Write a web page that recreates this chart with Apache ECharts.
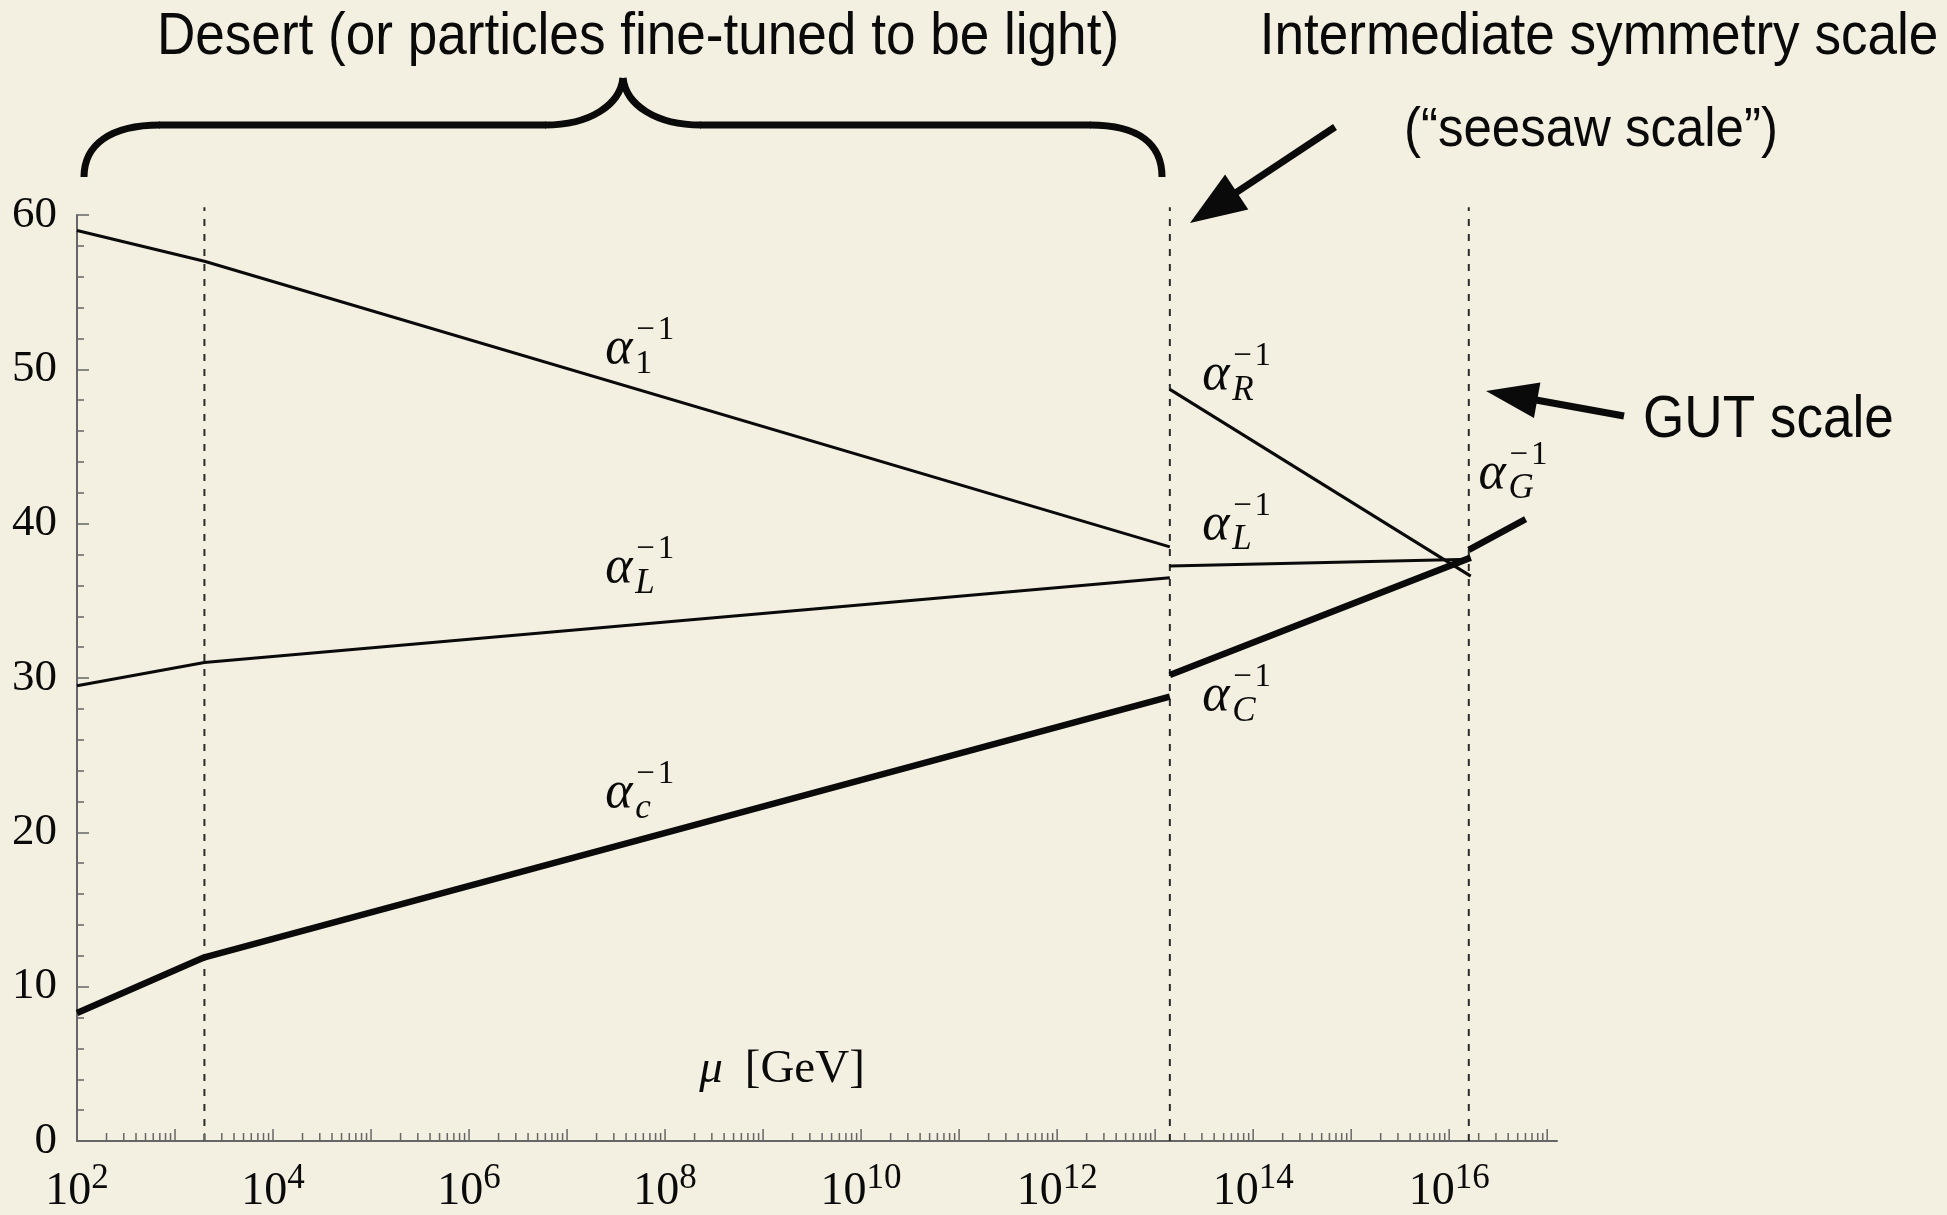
<!DOCTYPE html>
<html>
<head>
<meta charset="utf-8">
<title>Gauge coupling running</title>
<script src="https://cdn.jsdelivr.net/npm/echarts@6/dist/echarts.min.js"></script>
<style>
  html, body { margin: 0; padding: 0; background: #F3EFE1; }
  #chart { width: 1947px; height: 1215px; }
</style>
</head>
<body>
<div id="chart"></div>
<script>
// ---- data (x values are log10 of the scale mu in GeV) ----

// threshold scales drawn as dotted verticals: TeV threshold, seesaw scale, GUT scale
const thresholdScales = [3.3, 13.15, 16.2];

// Standard-Model-like running from 10^2 GeV to the seesaw scale
const lowMu = [2, 3.3, 13.15];
const alpha1Inv = [59.0, 57.0, 38.5];
const alphaLInv = [29.5, 31.0, 36.5];
const alphacInv = [8.3, 11.9, 28.8];

// left-right symmetric running between seesaw and GUT scales
const midMu = [13.15, 16.22];
const alphaRInv = [48.7, 36.6];
const alphaL2Inv = [37.25, 37.7];
const alphaCInv = [30.2, 37.8];

// unified coupling above the GUT scale
const gutMu = [16.2, 16.78];
const alphaGInv = [38.3, 40.3];

// curve labels: position (log10 mu, alpha^-1) and subscript
const labelMu = [7.39, 7.39, 7.39, 13.48, 13.48, 13.48, 16.30];
const labelAlpha = [51.3, 37.1, 22.5, 49.6, 39.9, 28.8, 43.2];
const labelSub = ['1', 'L', 'c', 'R', 'L', 'C', 'G'];

// labelled decades on the mu axis
const xLabelExponents = [2, 4, 6, 8, 10, 12, 14, 16];
const firstDecade = 2, lastDecade = 17;

// ---- styling ----
const BG = '#F3EFE1';
const INK = '#0a0a0a';
const AXIS = '#666666';
const SERIF = '"Liberation Serif", "Times New Roman", serif';
const SANS = '"Liberation Sans", Arial, Helvetica, sans-serif';

const zip = (xs, ys) => xs.map((x, i) => [x, ys[i]]);

// logarithmic minor ticks for the mu axis (2..9 x 10^n)
const tickData = [];
for (let n = firstDecade; n <= lastDecade; n++) {
  tickData.push([n, 0]);
  if (n < lastDecade) for (let k = 2; k <= 9; k++) tickData.push([n + Math.log10(k), 0]);
}

function curve(name, xs, ys, width) {
  return {
    name, type: 'line', data: zip(xs, ys), symbol: 'none', clip: false,
    lineStyle: { color: INK, width, cap: 'butt' }, z: 5, silent: true
  };
}

function thresholdLine(x) {
  return {
    type: 'line', data: [[x, 0], [x, 60.5]], symbol: 'none', clip: false, silent: true,
    lineStyle: { color: '#2b2b2b', width: 2, type: [7, 8] }, z: 3
  };
}

// arrow: shaft plus filled triangular head, tail -> tip (pixels)
function arrow(tail, tip, headLen, halfW, width) {
  const dx = tip[0] - tail[0], dy = tip[1] - tail[1];
  const L = Math.hypot(dx, dy), ux = dx / L, uy = dy / L;
  const bx = tip[0] - ux * headLen, by = tip[1] - uy * headLen;
  const px = -uy, py = ux;
  return [
    { type: 'line', z: 10, shape: { x1: tail[0], y1: tail[1], x2: bx + ux * 4, y2: by + uy * 4 },
      style: { stroke: INK, lineWidth: width, lineCap: 'butt' } },
    { type: 'polygon', z: 10, shape: { points: [tip, [bx + px * halfW, by + py * halfW], [bx - px * halfW, by - py * halfW]] },
      style: { fill: INK } }
  ];
}

// curly brace over the desert region, built from bezier pieces (pixels)
const braceStyle = { stroke: INK, lineWidth: 7, fill: null, lineCap: 'butt' };
const brace = [
  { type: 'bezierCurve', shape: { x1: 84, y1: 177, cpx1: 84, cpy1: 145, cpx2: 110, cpy2: 125, x2: 160, y2: 125 } },
  { type: 'line', shape: { x1: 159, y1: 125, x2: 546, y2: 125 } },
  { type: 'bezierCurve', shape: { x1: 545, y1: 125, cpx1: 590, cpy1: 125, cpx2: 620, cpy2: 105, x2: 623, y2: 78 } },
  { type: 'bezierCurve', shape: { x1: 623, y1: 78, cpx1: 626, cpy1: 105, cpx2: 656, cpy2: 125, x2: 701, y2: 125 } },
  { type: 'line', shape: { x1: 700, y1: 125, x2: 1091, y2: 125 } },
  { type: 'bezierCurve', shape: { x1: 1090, y1: 125, cpx1: 1140, cpy1: 125, cpx2: 1162, cpy2: 145, x2: 1162, y2: 177 } }
].map(e => Object.assign(e, { z: 10, style: braceStyle }));

// narrow sans caption (glyphs drawn a little condensed)
function caption(text, x, y, size, sx, align) {
  return { type: 'text', x, y, z: 10, scaleX: sx,
           style: { text, font: size + 'px ' + SANS, fill: INK, textAlign: align, textVerticalAlign: 'middle' } };
}

const chart = echarts.init(document.getElementById('chart'), null, { renderer: 'canvas' });

const option = {
  backgroundColor: BG,
  animation: false,
  grid: { left: 77, right: 390, top: 215, bottom: 73, containLabel: false },
  xAxis: {
    type: 'value', min: firstDecade, max: 17.1, interval: 1,
    axisLine: { show: true, onZero: false, lineStyle: { color: AXIS, width: 2 } },
    axisTick: { show: false },
    splitLine: { show: false },
    axisLabel: {
      margin: 20, showMinLabel: true, showMaxLabel: true, hideOverlap: false,
      formatter: v => xLabelExponents.includes(v) ? '{b|10}{s|' + v + '}' : '',
      rich: {
        b: { fontFamily: SERIF, fontSize: 46, lineHeight: 62, color: INK },
        s: { fontFamily: SERIF, fontSize: 35, lineHeight: 35, verticalAlign: 'top', color: INK }
      }
    }
  },
  yAxis: {
    type: 'value', min: 0, max: 60, interval: 10,
    axisLine: { show: true, onZero: false, lineStyle: { color: AXIS, width: 2 } },
    axisTick: { show: true, inside: true, length: 12, lineStyle: { color: AXIS, width: 1.5 } },
    minorTick: { show: true, splitNumber: 5, length: 7, lineStyle: { color: AXIS, width: 1.5 } },
    splitLine: { show: false },
    minorSplitLine: { show: false },
    axisLabel: { margin: 20, fontFamily: SERIF, fontSize: 45, color: INK }
  },
  series: [
    ...thresholdScales.map(thresholdLine),
    curve('alpha1', lowMu, alpha1Inv, 3),
    curve('alphaL', lowMu, alphaLInv, 3),
    curve('alphac', lowMu, alphacInv, 6.5),
    curve('alphaR', midMu, alphaRInv, 3),
    curve('alphaL2', midMu, alphaL2Inv, 3),
    curve('alphaC', midMu, alphaCInv, 6.5),
    curve('alphaG', gutMu, alphaGInv, 6.5),
    {
      // log-scale ticks along the mu axis
      type: 'custom', data: tickData, silent: true, z: 4,
      renderItem(params, api) {
        const v = api.value(0);
        const p = api.coord([v, 0]);
        const len = Math.abs(v - Math.round(v)) < 1e-6 ? 12 : 8;
        return { type: 'line', shape: { x1: p[0], y1: p[1], x2: p[0], y2: p[1] - len },
                 style: { stroke: AXIS, lineWidth: 1.5 } };
      }
    },
    {
      // alpha^-1 labels with stacked sub/superscripts
      type: 'custom', data: zip(labelMu, labelAlpha), silent: true, z: 6,
      renderItem(params, api) {
        const p = api.coord([api.value(0), api.value(1)]);
        const sub = labelSub[params.dataIndex];
        const subFont = /[A-Za-z]/.test(sub) ? 'italic 35px ' + SERIF : '34px ' + SERIF;
        return {
          type: 'group', children: [
            { type: 'text', x: p[0], y: p[1],
              style: { text: 'α', font: 'italic 52px ' + SERIF, fill: INK, textAlign: 'left', textVerticalAlign: 'middle' } },
            { type: 'text', x: p[0] + 31, y: p[1] - 19,
              style: { text: '−\u200A1', font: '33px ' + SERIF, fill: INK, textAlign: 'left', textVerticalAlign: 'middle' } },
            { type: 'text', x: p[0] + 30, y: p[1] + 15,
              style: { text: sub, font: subFont, fill: INK, textAlign: 'left', textVerticalAlign: 'middle' } }
          ]
        };
      }
    }
  ],
  graphic: [
    ...brace,
    caption('Desert (or particles fine-tuned to be light)', 638, 38, 59, 0.9, 'center'),
    caption('Intermediate symmetry scale', 1599, 38, 59, 0.9, 'center'),
    caption('(“seesaw scale”)', 1591, 131, 56, 0.91, 'center'),
    caption('GUT scale', 1643, 421, 59, 0.9, 'left'),
    { type: 'text', x: 782, y: 1070, z: 10,
      style: { text: '{i|μ}{r|[GeV]}', textAlign: 'center', textVerticalAlign: 'middle',
               rich: { i: { font: 'italic 47px ' + SERIF, fill: INK },
                       r: { font: '47px ' + SERIF, fill: INK, padding: [0, 0, 0, 22] } } } },
    ...arrow([1335, 127], [1190, 223], 56, 21, 7),
    ...arrow([1624, 416], [1486, 391], 52, 18, 7)
  ]
};

chart.setOption(option);
</script>
</body>
</html>
